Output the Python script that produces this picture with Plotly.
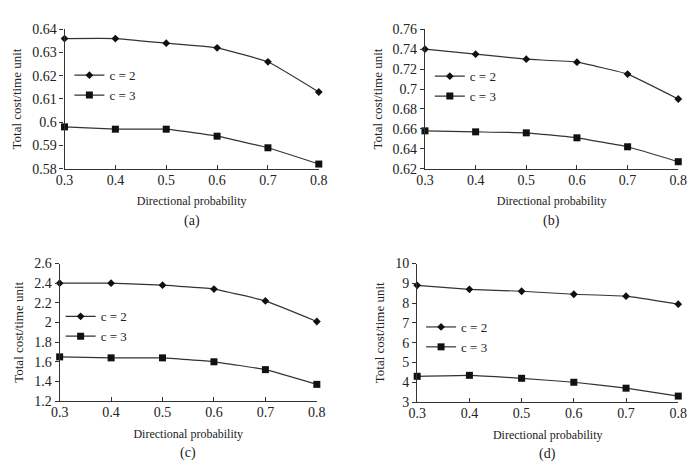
import plotly.graph_objects as go

x_vals = [0.3, 0.4, 0.5, 0.6, 0.7, 0.8]
x_ticks = [0.3, 0.4, 0.5, 0.6, 0.7, 0.8]

a_c2 = [0.636, 0.636, 0.634, 0.632, 0.626, 0.613]
a_c3 = [0.598, 0.597, 0.597, 0.594, 0.589, 0.582]
b_c2 = [0.740, 0.735, 0.730, 0.727, 0.715, 0.690]
b_c3 = [0.658, 0.657, 0.656, 0.651, 0.642, 0.627]
c_c2 = [2.40, 2.40, 2.38, 2.34, 2.22, 2.01]
c_c3 = [1.65, 1.64, 1.64, 1.60, 1.52, 1.37]
d_c2 = [8.9, 8.7, 8.6, 8.45, 8.35, 7.95]
d_c3 = [4.3, 4.35, 4.2, 4.0, 3.7, 3.3]

a_yticks = [0.58, 0.59, 0.60, 0.61, 0.62, 0.63, 0.64]
a_ylabels = ["0.58", "0.59", "0.6", "0.61", "0.62", "0.63", "0.64"]
b_yticks = [0.62, 0.64, 0.66, 0.68, 0.70, 0.72, 0.74, 0.76]
b_ylabels = ["0.62", "0.64", "0.66", "0.68", "0.7", "0.72", "0.74", "0.76"]
c_yticks = [1.2, 1.4, 1.6, 1.8, 2.0, 2.2, 2.4, 2.6]
c_ylabels = ["1.2", "1.4", "1.6", "1.8", "2", "2.2", "2.4", "2.6"]
d_yticks = [3, 4, 5, 6, 7, 8, 9, 10]
d_ylabels = ["3", "4", "5", "6", "7", "8", "9", "10"]

panel_labels = ["(a)", "(b)", "(c)", "(d)"]
series_names = ["c = 2", "c = 3"]

W, H = 697, 472
FONT = "Liberation Serif"

def px_x(p):
    return p / W

def px_y(p):
    return 1 - p / H

panels = [
    dict(c2=a_c2, c3=a_c3, yt=a_yticks, yl=a_ylabels, xd=(57, 318), yd=(23, 167), leg=(62, 55)),
    dict(c2=b_c2, c3=b_c3, yt=b_yticks, yl=b_ylabels, xd=(427, 687), yd=(23, 167), leg=(432, 56)),
    dict(c2=c_c2, c3=c_c3, yt=c_yticks, yl=c_ylabels, xd=(52, 316), yd=(265, 407), leg=(53, 304)),
    dict(c2=d_c2, c3=d_c3, yt=d_yticks, yl=d_ylabels, xd=(419, 687), yd=(265, 408), leg=(423, 315)),
]

fig = go.Figure()
layout = dict(
    width=W, height=H,
    margin=dict(l=0, r=0, t=0, b=0),
    paper_bgcolor="white", plot_bgcolor="white",
    font=dict(family=FONT, color="#222", size=13),
    showlegend=True,
    annotations=[],
)

for i, p in enumerate(panels):
    n = "" if i == 0 else str(i + 1)
    xa, ya = "x" + n, "y" + n
    legname = "legend" if i == 0 else "legend" + str(i + 1)
    for s, (name, vals, sym, size) in enumerate([
        (series_names[0], p["c2"], "diamond", 6),
        (series_names[1], p["c3"], "square", 7),
    ]):
        fig.add_trace(go.Scatter(
            x=x_vals, y=vals, name=name, mode="lines+markers",
            line=dict(color="#333", width=1.2, shape="spline", smoothing=0.3),
            marker=dict(symbol=sym, size=size, color="#111"),
            xaxis=xa, yaxis=ya, legend=legname, cliponaxis=False,
        ))
    xd = [px_x(p["xd"][0]), px_x(p["xd"][1])]
    yd = [px_y(p["yd"][1]), px_y(p["yd"][0])]
    layout["xaxis" + n] = dict(
        domain=xd, anchor=ya, range=[0.3, 0.8], tickvals=x_ticks,
        ticktext=[f"{v:.1f}" for v in x_ticks],
        showline=True, linecolor="#333", linewidth=1.2, mirror=False,
        ticks="inside", ticklen=4, tickcolor="#333", showgrid=False, zeroline=False,
        tickfont=dict(size=14, family=FONT, color="#222"),
        ticklabelstandoff=-2,
        title=dict(text="Directional probability", font=dict(size=12, family=FONT, color="#222"), standoff=10),
    )
    layout["yaxis" + n] = dict(
        domain=yd, anchor=xa, range=[p["yt"][0], p["yt"][-1]], tickvals=p["yt"],
        ticktext=p["yl"],
        showline=True, linecolor="#333", linewidth=1.2, mirror=False,
        ticks="outside", ticklen=4, tickcolor="#333", showgrid=False, zeroline=False,
        tickfont=dict(size=14, family=FONT, color="#222"),
        title=dict(text="Total cost/time unit", font=dict(size=13, family=FONT, color="#222"), standoff=7),
    )
    layout[legname] = dict(
        x=px_x(p["leg"][0]), y=px_y(p["leg"][1]), xanchor="left", yanchor="top",
        bgcolor="rgba(0,0,0,0)", font=dict(size=13, family=FONT, color="#222"),
        itemwidth=30, tracegroupgap=0,
    )
    layout["annotations"].append(dict(
        text=panel_labels[i], xref="paper", yref="paper",
        x=(xd[0] + xd[1]) / 2, y=px_y(p["yd"][1] + 54), xanchor="center", yanchor="middle",
        showarrow=False, font=dict(size=14, family=FONT, color="#222"),
    ))

fig.update_layout(**layout)
fig.write_html("out.html")
